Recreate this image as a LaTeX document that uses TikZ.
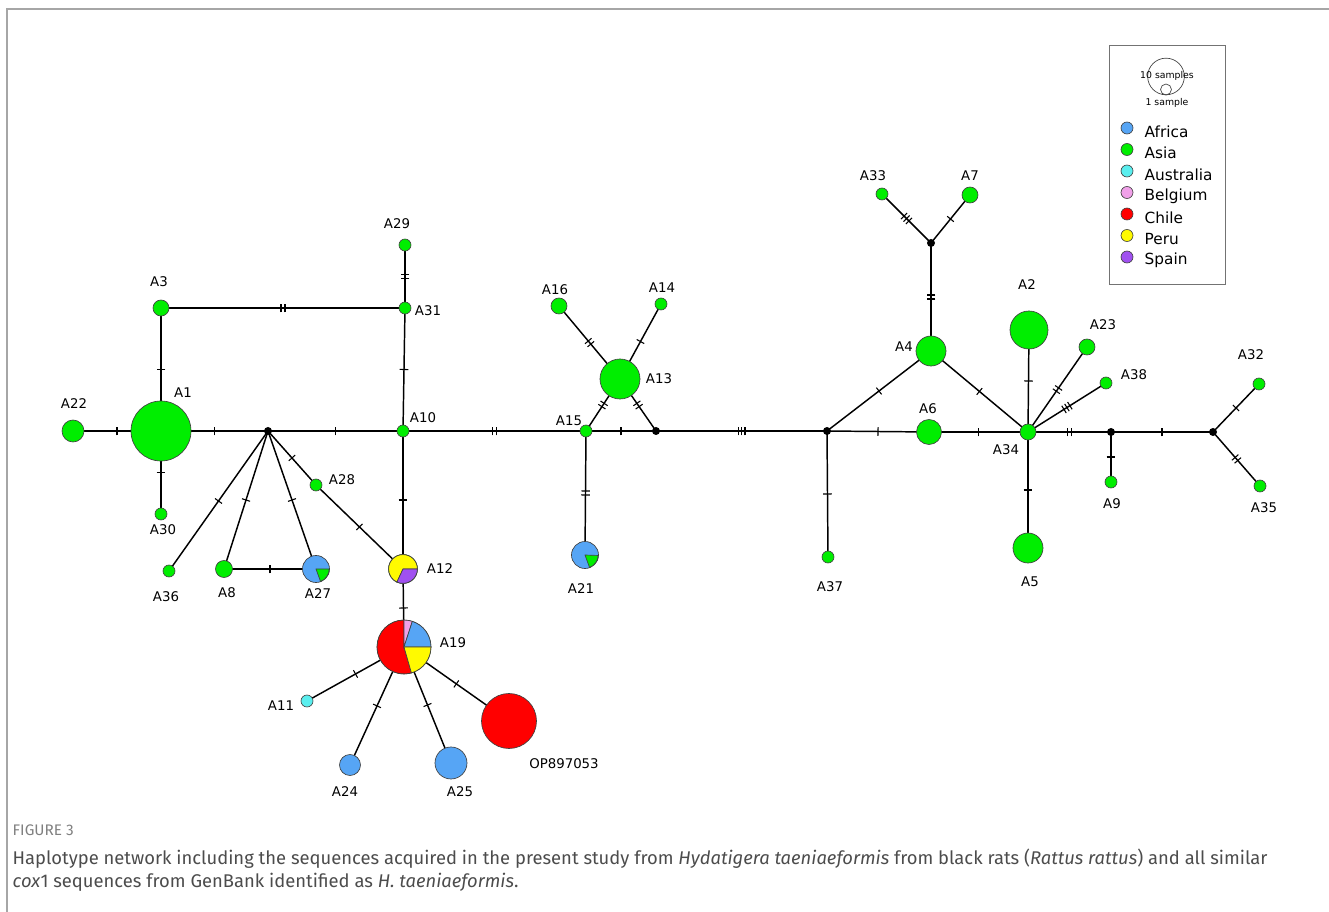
\documentclass[tikz,border=0pt]{standalone}
\usepackage{fontspec}
\setmainfont{DejaVu Sans}
\newfontfamily\capfont{Fira Sans}
\usetikzlibrary{decorations.markings,backgrounds}

\definecolor{africa}{RGB}{86,165,245}
\definecolor{asia}{RGB}{0,238,0}
\definecolor{australia}{RGB}{90,238,238}
\definecolor{belgium}{RGB}{240,160,232}
\definecolor{chile}{RGB}{255,0,0}
\definecolor{peru}{RGB}{255,250,0}
\definecolor{spain}{RGB}{160,80,240}

\newcommand\slice[5]{\fill[#5,draw=black!75,line width=0.5pt] (#1.center) -- ++(#3:#2pt) arc[start angle=#3,end angle=#4,radius=#2pt] -- cycle;}

\tikzset{
hap/.style={circle,draw=black!75,line width=0.5pt,fill=asia,inner sep=0pt,minimum size=#1*0.75pt},
hap/.default=12,
med/.style={circle,fill=black,inner sep=0pt,minimum size=6pt},
lab/.style={font=\fontsize{10}{12}\selectfont},
link/.style={line width=1.1pt},
t1/.style={postaction={decorate,decoration={markings,mark=at position 0.5 with {\draw[line width=0.8pt] (0,-3.2pt) -- (0,3.2pt);}}}},
t2/.style={postaction={decorate,decoration={markings,mark=at position 0.5 with {\draw[line width=0.8pt] (-1.5pt,-3.2pt) -- (-1.5pt,3.2pt) (1.5pt,-3.2pt) -- (1.5pt,3.2pt);}}}},
t3/.style={postaction={decorate,decoration={markings,mark=at position 0.5 with {\draw[line width=0.8pt] (-2.6pt,-3.2pt) -- (-2.6pt,3.2pt) (0,-3.2pt) -- (0,3.2pt) (2.6pt,-3.2pt) -- (2.6pt,3.2pt);}}}},
key/.style={circle,draw=black!75,line width=0.5pt,inner sep=0pt,minimum size=9pt},
keytext/.style={anchor=west,font=\fontsize{11.5}{13}\selectfont}
}

\begin{document}
\begin{tikzpicture}[x=0.75pt,y=-0.75pt]
\useasboundingbox (0,0) rectangle (1329,912);
\draw[black!35,line width=1.5pt] (7,912) -- (7,9) -- (1329,9);

\node[hap=60] (A1) at (161,431) {};
\node[hap=22] (A22) at (73,431) {};
\node[hap=16] (A3) at (161,308) {};
\node[hap] (A30) at (161,514) {};
\node[med] (m1) at (268,431) {};
\node[hap] (A10) at (403,431) {};
\node[hap] (A31) at (405,308) {};
\node[hap] (A29) at (405,245) {};
\node[hap] (A28) at (316,485) {};
\node[hap] (A36) at (169,571) {};
\node[hap=17] (A8) at (224,569) {};
\node[hap=27,fill=africa] (A27) at (316,569) {};
\node[hap=29] (A12) at (403,569) {};
\node[hap=54] (A19) at (404,647) {};
\node[hap,fill=australia] (A11) at (307,701) {};
\node[hap=21,fill=africa] (A24) at (350,765) {};
\node[hap=32,fill=africa] (A25) at (451,763) {};
\node[hap=55,fill=chile] (OP) at (509,721) {};
\node[hap] (A15) at (586,431) {};
\node[hap=40] (A13) at (620,379) {};
\node[hap=16] (A16) at (559,306) {};
\node[hap] (A14) at (661,304) {};
\node[med] (m2) at (656,431) {};
\node[hap=27,fill=africa] (A21) at (585,555) {};
\node[med] (m3) at (827,431) {};
\node[hap] (A37) at (828,557) {};
\node[hap=30] (A4) at (931,351) {};
\node[hap=25] (A6) at (929,432) {};
\node[med] (m4) at (931,243) {};
\node[hap] (A33) at (882,194) {};
\node[hap=16] (A7) at (970,195) {};
\node[hap=16] (A34) at (1028,432) {};
\node[hap=38] (A2) at (1029,330) {};
\node[hap=16] (A23) at (1087,347) {};
\node[hap] (A38) at (1106,383) {};
\node[hap=30] (A5) at (1028,548) {};
\node[med] (m5) at (1111,432) {};
\node[hap] (A9) at (1111,482) {};
\node[med] (m6) at (1213,432) {};
\node[hap] (A32) at (1259,384) {};
\node[hap] (A35) at (1260,486) {};

\slice{A27}{9.9}{-70}{0}{asia}
\slice{A21}{9.9}{-70}{-2}{asia}
\slice{A12}{10.8}{0}{245}{peru}
\slice{A12}{10.8}{245}{360}{spain}
\slice{A19}{20.2}{90}{286}{chile}
\slice{A19}{20.2}{72}{90}{belgium}
\slice{A19}{20.2}{0}{72}{africa}
\slice{A19}{20.2}{-74}{0}{peru}

\begin{scope}[on background layer]
\draw[link,t1] (A22.center) -- (A1.center);
\draw[link,t1] (A1.center) -- (m1.center);
\draw[link,t1] (A1.center) -- (A3.center);
\draw[link,t1] (A1.center) -- (A30.center);
\draw[link,t2] (A3.center) -- (A31.center);
\draw[link,t2] (A31.center) -- (A29.center);
\draw[link,t1] (A31.center) -- (A10.center);
\draw[link,t1] (m1.center) -- (A10.center);
\draw[link,t1] (m1.center) -- (A36.center);
\draw[link,t1] (m1.center) -- (A8.center);
\draw[link,t1] (m1.center) -- (A27.center);
\draw[link,t1] (m1.center) -- (A28.center);
\draw[link,t1] (A28.center) -- (A12.center);
\draw[link,t1] (A8.center) -- (A27.center);
\draw[link,t1] (A10.center) -- (A12.center);
\draw[link,t1] (A12.center) -- (A19.center);
\draw[link,t1] (A19.center) -- (A11.center);
\draw[link,t1] (A19.center) -- (A24.center);
\draw[link,t1] (A19.center) -- (A25.center);
\draw[link,t1] (A19.center) -- (OP.center);
\draw[link,t2] (A10.center) -- (A15.center);
\draw[link,t2] (A15.center) -- (A13.center);
\draw[link,t2] (A13.center) -- (m2.center);
\draw[link,t1] (A15.center) -- (m2.center);
\draw[link,t2] (A13.center) -- (A16.center);
\draw[link,t1] (A13.center) -- (A14.center);
\draw[link,t2] (A15.center) -- (A21.center);
\draw[link,t3] (m2.center) -- (m3.center);
\draw[link,t1] (m3.center) -- (A37.center);
\draw[link,t1] (m3.center) -- (A4.center);
\draw[link,t1] (m3.center) -- (A6.center);
\draw[link,t2] (A4.center) -- (m4.center);
\draw[link,t3] (m4.center) -- (A33.center);
\draw[link,t1] (m4.center) -- (A7.center);
\draw[link,t1] (A4.center) -- (A34.center);
\draw[link,t1] (A6.center) -- (A34.center);
\draw[link,t1] (A34.center) -- (A2.center);
\draw[link,t2] (A34.center) -- (A23.center);
\draw[link,t3] (A34.center) -- (A38.center);
\draw[link,t1] (A34.center) -- (A5.center);
\draw[link,t2] (A34.center) -- (m5.center);
\draw[link,t1] (m5.center) -- (A9.center);
\draw[link,t1] (m5.center) -- (m6.center);
\draw[link,t1] (m6.center) -- (A32.center);
\draw[link,t2] (m6.center) -- (A35.center);
\end{scope}

\node[lab] (lA22) at (74,404) {A22};
\node[lab] (lA1) at (183,393) {A1};
\node[lab] (lA3) at (159,282) {A3};
\node[lab] (lA30) at (163,530) {A30};
\node[lab] (lA29) at (397,224) {A29};
\node[lab] (lA31) at (428,311) {A31};
\node[lab] (lA10) at (423,418) {A10};
\node[lab] (lA28) at (342,480) {A28};
\node[lab] (lA36) at (166,597) {A36};
\node[lab] (lA8) at (227,593) {A8};
\node[lab] (lA27) at (318,594) {A27};
\node[lab] (lA12) at (440,569) {A12};
\node[lab] (lA19) at (453,643) {A19};
\node[lab] (lA11) at (281,706) {A11};
\node[lab] (lA24) at (345,792) {A24};
\node[lab] (lA25) at (460,792) {A25};
\node[lab] (lOP) at (564,764) {OP897053};
\node[lab] (lA16) at (555,290) {A16};
\node[lab] (lA14) at (662,288) {A14};
\node[lab] (lA13) at (659,379) {A13};
\node[lab] (lA15) at (569,421) {A15};
\node[lab] (lA21) at (581,589) {A21};
\node[lab] (lA37) at (830,587) {A37};
\node[lab] (lA33) at (873,176) {A33};
\node[lab] (lA7) at (970,176) {A7};
\node[lab] (lA4) at (904,347) {A4};
\node[lab] (lA6) at (928,409) {A6};
\node[lab] (lA2) at (1027,285) {A2};
\node[lab] (lA23) at (1103,325) {A23};
\node[lab] (lA38) at (1134,375) {A38};
\node[lab] (lA34) at (1006,450) {A34};
\node[lab] (lA9) at (1112,504) {A9};
\node[lab] (lA5) at (1030,582) {A5};
\node[lab] (lA32) at (1251,355) {A32};
\node[lab] (lA35) at (1264,508) {A35};

% legend
\draw[black!55,line width=0.7pt] (1109,45) rectangle (1225,284);
\node[key,minimum size=27.5pt] (k10) at (1166,76.5) {};
\node[key,minimum size=8.2pt] (k1) at (1166,89.5) {};
\node[font=\fontsize{7}{8}\selectfont] (t10) at (1167,76) {10 samples};
\node[font=\fontsize{7}{8}\selectfont] (t1s) at (1167,103) {1 sample};
\foreach \c/\t [count=\i from 0] in {africa/Africa,asia/Asia,australia/Australia,belgium/Belgium,chile/Chile,peru/Peru,spain/Spain}{
  \node[key,fill=\c] (k\c) at (1127,128+21.5*\i) {};
  \node[keytext] (n\c) at (1140,131.5+21.5*\i) {\t};
}

\node[anchor=west,text=black!50,font=\capfont\fontsize{11.5}{13}\selectfont] (fig) at (8,830) {FIGURE 3};
\node[anchor=west,text=black!70,font=\capfont\fontsize{13.8}{16}\selectfont] (cap1) at (8,859) {Haplotype network including the sequences acquired in the present study from \textit{Hydatigera taeniaeformis} from black rats (\textit{Rattus rattus}) and all similar};
\node[anchor=west,text=black!70,font=\capfont\fontsize{13.8}{16}\selectfont] (cap2) at (8,882) {\textit{cox}1 sequences from GenBank identified as \textit{H. taeniaeformis}.};
\end{tikzpicture}
\end{document}
